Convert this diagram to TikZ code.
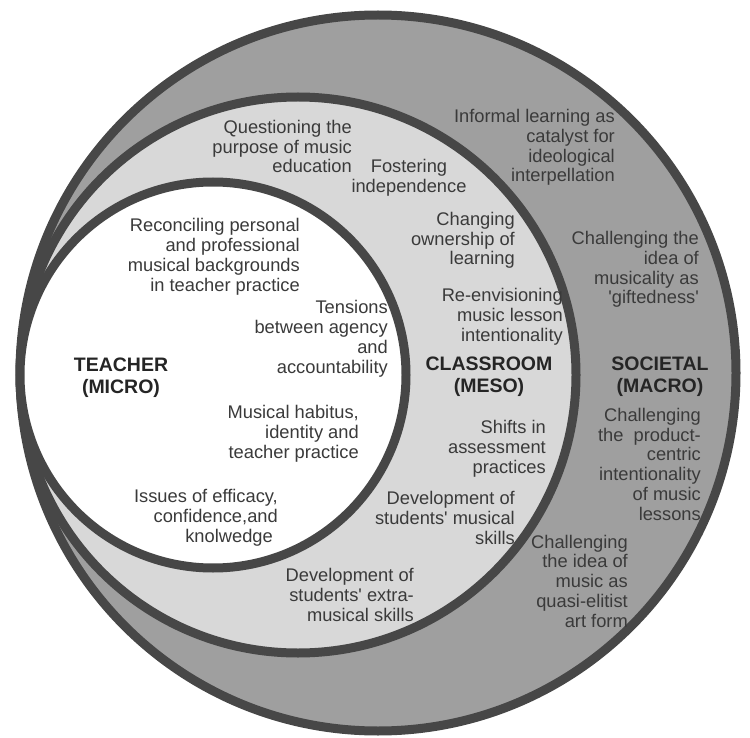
\documentclass[tikz,border=0pt]{standalone}
\usepackage{fontspec}
\setmainfont{Liberation Sans}
\definecolor{outerfill}{HTML}{9F9F9F}
\definecolor{midfill}{HTML}{D8D8D8}
\definecolor{ringcol}{HTML}{474747}
\definecolor{txtcol}{HTML}{3A3A3A}
\definecolor{headcol}{HTML}{252525}
\begin{document}
\begin{tikzpicture}[x=1pt,y=-1pt,
  ring/.style={draw=ringcol, line width=9pt},
  lbl/.style={text=txtcol, font=\fontsize{18.3}{19.7}\selectfont, inner sep=0pt, align=right, anchor=base east},
  lblc/.style={lbl, align=center, anchor=base},
  head/.style={text=headcol, font=\fontsize{19.5}{22}\selectfont\bfseries, inner sep=0pt, align=center, anchor=base}]
\useasboundingbox[fill=white] (0,0) rectangle (750,738);
% circles
\draw[ring, fill=outerfill] (378,373) circle[radius=358];
\draw[ring, fill=midfill] (298,375) circle[radius=278];
\draw[ring, fill=white] (213,375) circle[radius=193];
% headings (anchored at the baseline of the last line)
\node[head] (teacher) at (121,393) {TEACHER\\(MICRO)};
\node[head] (classroom) at (489,392) {CLASSROOM\\(MESO)};
\node[head] (societal) at (660,392) {SOCIETAL\\(MACRO)};
% teacher texts
\node[lbl] (reconcile) at (300,291) {Reconciling personal\\and professional\hspace*{9pt}\\musical backgrounds\\in teacher practice};
\node[lbl] (tensions) at (388,373) {Tensions\\between agency\\and\\accountability};
\node[lbl] (habitus) at (359,458) {Musical habitus,\\identity and\\teacher practice};
\node[lbl] (efficacy) at (278,542) {Issues of efficacy,\\confidence,and\\knolwedge\hspace*{5pt}};
% classroom texts
\node[lbl] (question) at (352,173) {Questioning the\\purpose of music\\education};
\node[lblc] (foster) at (409,192.5) {Fostering\\independence};
\node[lbl] (ownership) at (515,265) {Changing\\ownership of\\learning};
\node[lbl] (reenv) at (563,341) {Re-envisioning\\music lesson\\intentionality};
\node[lbl] (shifts) at (546,473) {Shifts in\\assessment\\practices};
\node[lbl] (devmus) at (515,544) {Development of\\students\textquotesingle{} musical\\skills};
\node[lbl] (devextra) at (414,621) {Development of\\students\textquotesingle{} extra-\\musical skills};
% societal texts
\node[lbl] (informal) at (615,182) {Informal learning as\\catalyst for\\ideological\\interpellation};
\node[lbl] (gifted) at (699,304) {Challenging the\\idea of\\musicality as\\\textquotesingle giftedness\textquotesingle};
\node[lbl] (product) at (701,520) {Challenging\\the~ product-\\centric\\intentionality\\of music\\lessons};
\node[lbl] (elitist) at (628,627) {Challenging\\the idea of\\music as\\quasi-elitist\\art form};
\end{tikzpicture}
\end{document}
